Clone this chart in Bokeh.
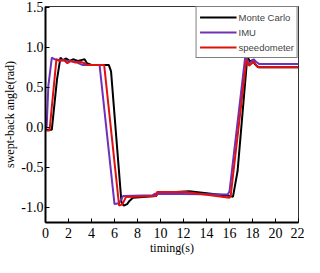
from bokeh.plotting import figure
from bokeh.models import Range1d, FixedTicker, NumeralTickFormatter, Legend, LegendItem
from bokeh.embed import file_html
from bokeh.resources import INLINE

# Monte Carlo (black)
mc_t = [0, 0.55, 1.0, 1.3, 1.5, 1.8, 2.1, 2.4, 2.8, 3.1, 3.4, 3.6, 4.0, 5.5, 5.7, 6.6, 6.8, 7.1, 7.3, 7.6, 9.6, 9.8, 12.5, 16.1, 16.3, 16.7, 17.55, 17.8, 18.0, 18.2, 18.5, 22]
mc_y = [-0.03, -0.03, 0.6, 0.87, 0.84, 0.86, 0.83, 0.85, 0.83, 0.84, 0.85, 0.80, 0.78, 0.78, 0.70, -0.93, -0.98, -0.96, -0.92, -0.88, -0.86, -0.82, -0.80, -0.86, -0.87, -0.55, 0.88, 0.82, 0.84, 0.79, 0.75, 0.75]

# IMU (purple)
imu_t = [0, 0.1, 0.25, 0.55, 0.8, 1.2, 2.0, 2.6, 2.9, 3.2, 4.7, 6.0, 6.4, 6.75, 9.3, 9.5, 15.85, 16.0, 17.39, 17.67, 18.1, 18.3, 18.6, 22]
imu_y = [-0.02, 0.0, 0.52, 0.87, 0.85, 0.84, 0.83, 0.82, 0.80, 0.78, 0.78, -0.96, -0.95, -0.86, -0.85, -0.83, -0.84, -0.80, 0.91, 0.79, 0.85, 0.82, 0.79, 0.79]

# speedometer (red)
spd_t = [0, 0.35, 0.95, 1.2, 1.6, 1.9, 2.2, 2.6, 3.0, 3.4, 3.6, 5.1, 6.4, 6.7, 7.0, 9.6, 9.7, 12.2, 16.0, 16.1, 17.47, 17.7, 18.1, 18.4, 18.6, 22]
spd_y = [-0.04, -0.04, 0.85, 0.83, 0.84, 0.80, 0.83, 0.81, 0.82, 0.80, 0.78, 0.78, -0.98, -0.96, -0.87, -0.86, -0.81, -0.81, -0.88, -0.86, 0.85, 0.77, 0.82, 0.76, 0.75, 0.75]

x_ticks = [0, 2, 4, 6, 8, 10, 12, 14, 16, 18, 20, 22]
y_ticks = [-1.0, -0.5, 0.0, 0.5, 1.0, 1.5]

p = figure(width=304, height=257, output_backend="svg", toolbar_location=None,
           x_range=Range1d(0, 22), y_range=Range1d(-1.19, 1.51),
           min_border_left=36, min_border_right=6, min_border_top=6, min_border_bottom=10)
p.background_fill_color = "white"
p.border_fill_color = "white"
p.outline_line_color = "#333333"
p.outline_line_width = 1
p.xgrid.visible = False
p.ygrid.visible = False

serif = "Liberation Serif"
for ax in (p.xaxis[0], p.yaxis[0]):
    ax.axis_line_width = 2
    ax.axis_line_color = "black"
    ax.major_tick_in = 4
    ax.major_tick_out = 0
    ax.minor_tick_line_color = None
    ax.major_tick_line_width = 1
    ax.major_label_text_font = serif
    ax.major_label_text_font_size = "14px"
    ax.major_label_text_color = "black"
    ax.major_label_text_line_height = 1.0
    ax.axis_label_text_font = serif
    ax.axis_label_text_font_size = "12px"
    ax.axis_label_text_font_style = "normal"
    ax.axis_label_text_color = "black"
    ax.axis_label_text_line_height = 1.0

p.xaxis.ticker = FixedTicker(ticks=x_ticks)
p.yaxis.ticker = FixedTicker(ticks=y_ticks)
p.yaxis.formatter = NumeralTickFormatter(format="0.0")
p.xaxis.axis_label = "timing(s)"
p.yaxis.axis_label = "swept-back angle(rad)"
p.xaxis.major_label_standoff = 5
p.yaxis.major_label_standoff = 2
p.xaxis.axis_label_standoff = 0
p.yaxis.axis_label_standoff = 1

r_mc = p.line(mc_t, mc_y, line_color="black", line_width=2)
r_imu = p.line(imu_t, imu_y, line_color="#6E32B8", line_width=2)
r_spd = p.line(spd_t, spd_y, line_color="#E01010", line_width=2)

legend = Legend(items=[LegendItem(label="Monte Carlo", renderers=[r_mc]),
                       LegendItem(label="IMU", renderers=[r_imu]),
                       LegendItem(label="speedometer", renderers=[r_spd])],
                location="top_right", margin=0, padding=3, spacing=1,
                glyph_width=37, glyph_height=14, label_height=14, label_standoff=2,
                label_text_font="Liberation Sans", label_text_font_size="9.5px",
                border_line_color="black", border_line_width=1,
                background_fill_alpha=1.0)
p.add_layout(legend)

open("out.html", "w").write(file_html(p, INLINE))
